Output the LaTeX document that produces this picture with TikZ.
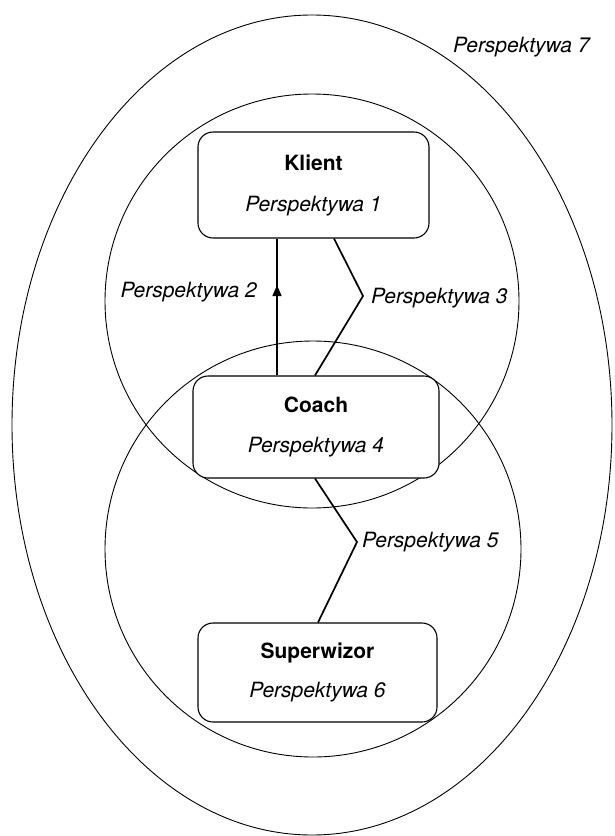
\documentclass[tikz,border=0pt]{standalone}
\usepackage{fontspec}
\setmainfont{TeX Gyre Heros}
\usetikzlibrary{arrows.meta,decorations.markings}

\begin{document}
\begin{tikzpicture}[x=1pt,y=-1pt,
      card/.style={draw, fill=white, rectangle, rounded corners=15pt, line width=1.1pt, align=center, inner sep=0pt},
      wire/.style={line width=1.7pt},
      ring/.style={line width=0.9pt},
      lbl/.style={font=\fontsize{21}{25}\selectfont\itshape, inner sep=0pt},
      every node/.style={font=\fontsize{21}{25}\selectfont}
    ]
      \useasboundingbox (0,0) rectangle (614,836);

      \draw[ring] (312,425) ellipse [x radius=300, y radius=410];
      \draw[ring] (312,301) circle [radius=207];
      \draw[ring] (313,549) circle [radius=208];

      \node[card, minimum width=231pt, minimum height=106pt] (klient) at (313.5,185) {\textbf{Klient}\\[16pt]\textit{Perspektywa 1}};
      \node[card, minimum width=246pt, minimum height=102pt] (coach) at (316,427) {\textbf{Coach}\\[15pt]\textit{Perspektywa 4}};
      \node[card, minimum width=239pt, minimum height=99pt] (superwizor) at (317.5,672.5) {\textbf{Superwizor}\\[14pt]\textit{Perspektywa 6}};

      \coordinate (k3) at (363,296);
      \coordinate (k5) at (357,542);

      \draw[wire, postaction={decorate}, decoration={markings,
          mark=at position 0.66 with {\arrow{Triangle[width=9pt,length=11pt]}}}]
        ([xshift=-39pt]coach.north) -- ([xshift=-36.5pt]klient.south);
      \draw[wire] ([xshift=20.5pt]klient.south) -- (k3) -- ([xshift=-1pt]coach.north);
      \draw[wire] ([xshift=-1pt]coach.south) -- (k5) -- ([xshift=0.5pt]superwizor.north);

      \node[lbl, anchor=east] (p2) at (257,292) {Perspektywa 2};
      \node[lbl, anchor=west] (p3) at (371,298) {Perspektywa 3};
      \node[lbl, anchor=west] (p5) at (362,542) {Perspektywa 5};
      \node[lbl, anchor=west] (p7) at (453,47) {Perspektywa 7};
    \end{tikzpicture}
\end{document}
